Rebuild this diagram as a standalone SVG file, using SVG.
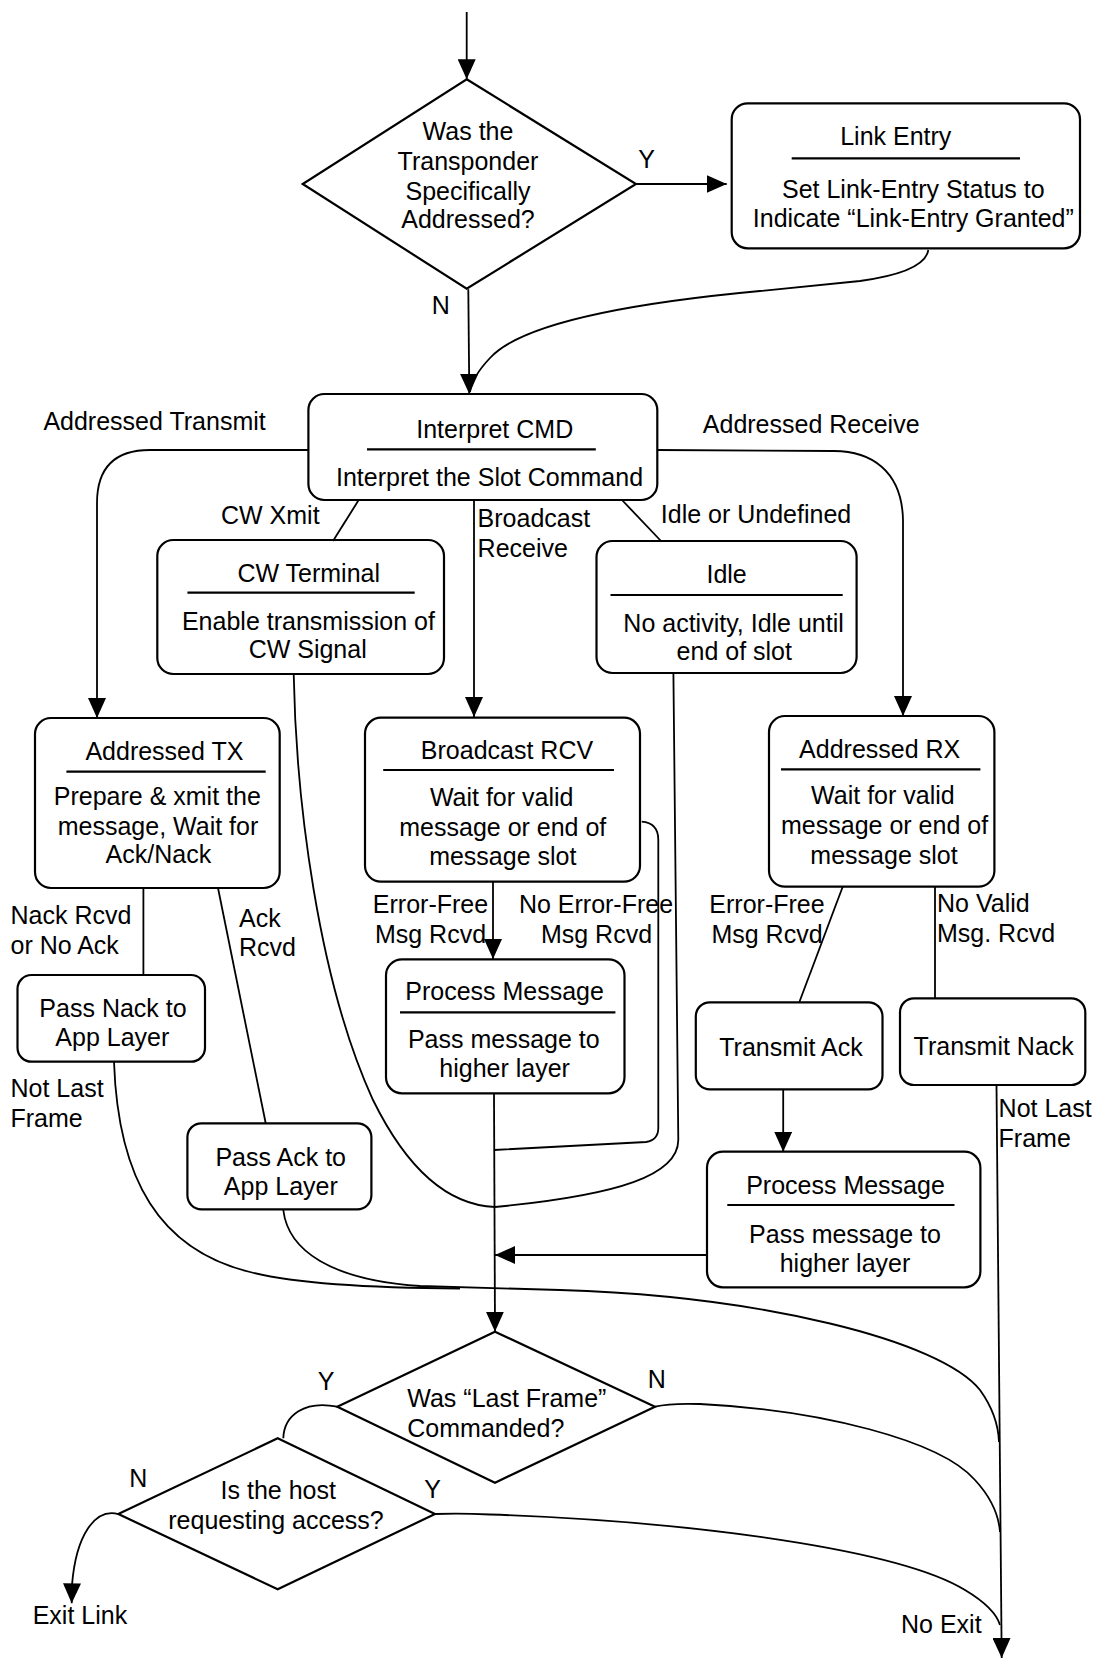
<svg xmlns="http://www.w3.org/2000/svg" width="1097" height="1659" viewBox="0 0 1097 1659">
<style>
.bx{fill:none;stroke:#000;stroke-width:2.2}
.ul{stroke:#000;stroke-width:2.2}
.c{fill:none;stroke:#000;stroke-width:1.8}
.ca{fill:none;stroke:#000;stroke-width:1.8;marker-end:url(#ah)}
text{font-family:"Liberation Sans",Arial,Helvetica,sans-serif;font-size:25px;fill:#000}
.m{text-anchor:middle}
</style>
<defs>
<marker id="ah" viewBox="0 0 20 18" refX="20" refY="9" markerWidth="20" markerHeight="18" markerUnits="userSpaceOnUse" orient="auto">
<path d="M0,0 L20,9 L0,18 Z" fill="#000"/>
</marker>
</defs>
<rect width="1097" height="1659" fill="#fff"/>

<g id="connectors">
<path class="ca" d="M466.7,12 L466.7,79.3"/>
<path class="ca" d="M636,184 L726.7,184"/>
<path class="ca" d="M468.3,289.3 L469.3,394"/>
<path class="c" d="M928.3,250 Q925,272 860,281 L760,291 C620,304 520,325 490,358 Q472,377 470,392"/>
<path class="ca" d="M308,450 L150,450 Q97,450 97,503 L97,718"/>
<path class="ca" d="M657,450 L834,451 C870,451 902,470 903,520 L903,716"/>
<path class="c" d="M358.7,500 L333,541"/>
<path class="ca" d="M474,500 L474,717"/>
<path class="c" d="M622,500 L661,541"/>
<path class="c" d="M143.4,888 L143.4,975"/>
<path class="c" d="M218,888 L265.7,1123.3"/>
<path class="c" d="M842.7,886.7 L799.3,1002.3"/>
<path class="c" d="M935,886.7 L935,998.3"/>
<path class="ca" d="M493,881.7 L493,959"/>
<path class="c" d="M641.7,821.7 Q658.3,823 658.3,840 L658.3,1128 Q658.3,1140 646,1142 L494,1150"/>
<path class="c" d="M293.7,674 C296,800 318,980 373,1100 C405,1165 445,1205 495,1207"/>
<path class="c" d="M673.4,673 L678.3,1140 C678,1175 620,1195 495,1207"/>
<path class="ca" d="M783.2,1089.3 L783.2,1151.7"/>
<path class="ca" d="M706.7,1255 L495,1255"/>
<path class="ca" d="M494,1093.3 L495,1331.7"/>
<path class="c" d="M114,1061.7 C118,1180 160,1250 250,1272 C300,1285 380,1288 460,1288.5"/>
<path class="c" d="M283.3,1210 C288,1250 330,1280 420,1286 L560,1290 C760,1296 940,1340 980,1390 Q998,1415 999,1442"/>
<path class="c" d="M655,1406.7 Q670,1403 700,1404 C820,1410 940,1440 975,1480 Q998,1505 1000,1532"/>
<path class="c" d="M435,1514 Q460,1513 490,1514.5 C700,1522 900,1550 965,1590 Q995,1608 1000,1625"/>
<path class="c" d="M337.3,1406.7 C305,1400 284,1415 283.3,1438.3"/>
<path class="ca" d="M118.3,1514 C95,1508 76,1535 72,1585 L71.7,1603.3"/>
<path class="ca" d="M996.5,1085 L1001.7,1658"/>
</g>

<g id="labels">
<text x="646.7" y="168.3" class="m">Y</text>
<text x="440.7" y="314" class="m">N</text>
<text x="43.4" y="430">Addressed Transmit</text>
<text x="702.8" y="433.3">Addressed Receive</text>
<text x="221" y="524.3">CW Xmit</text>
<text x="477.6" y="526.7">Broadcast</text>
<text x="477.6" y="556.7">Receive</text>
<text x="660.8" y="523.3">Idle or Undefined</text>
<text x="10.5" y="924.3">Nack Rcvd</text>
<text x="10.5" y="954">or No Ack</text>
<text x="239" y="926.7">Ack</text>
<text x="239" y="956">Rcvd</text>
<text x="430.5" y="913.3" class="m">Error-Free</text>
<text x="430.5" y="943.3" class="m">Msg Rcvd</text>
<text x="596" y="913.3" class="m">No Error-Free</text>
<text x="596.5" y="943.3" class="m">Msg Rcvd</text>
<text x="767" y="912.7" class="m">Error-Free</text>
<text x="767" y="942.7" class="m">Msg Rcvd</text>
<text x="937" y="912.3">No Valid</text>
<text x="937" y="941.7">Msg. Rcvd</text>
<text x="10.5" y="1097.3">Not Last</text>
<text x="10.5" y="1127.3">Frame</text>
<text x="998.6" y="1117.3">Not Last</text>
<text x="998.6" y="1147.3">Frame</text>
<text x="326" y="1390" class="m">Y</text>
<text x="656.7" y="1388.3" class="m">N</text>
<text x="138.3" y="1486.7" class="m">N</text>
<text x="432.7" y="1498.3" class="m">Y</text>
<text x="32.7" y="1624">Exit Link</text>
<text x="901" y="1633.3">No Exit</text>
</g>

<g id="n-addressed-q">
<polygon class="bx" points="466.7,79.3 636,184 466.7,288.7 302.7,184"/>
<text x="468" y="140" class="m">Was the</text>
<text x="468" y="170" class="m">Transponder</text>
<text x="468" y="200" class="m">Specifically</text>
<text x="468" y="228.3" class="m">Addressed?</text>
</g>

<g id="n-link-entry">
<rect class="bx" x="731.7" y="103.3" width="348.3" height="145" rx="16"/>
<text x="895.8" y="145" class="m">Link Entry</text>
<line class="ul" x1="791.7" y1="158.3" x2="1020" y2="158.3"/>
<text x="913.3" y="198.3" class="m">Set Link-Entry Status to</text>
<text x="913.3" y="226.7" class="m">Indicate “Link-Entry Granted”</text>
</g>

<g id="n-interpret">
<rect class="bx" x="308.4" y="394" width="348.9" height="106" rx="16"/>
<text x="494.7" y="438" class="m">Interpret CMD</text>
<line class="ul" x1="367" y1="449.3" x2="595.8" y2="449.3"/>
<text x="489.5" y="486" class="m">Interpret the Slot Command</text>
</g>

<g id="n-cw-terminal">
<rect class="bx" x="157.3" y="540" width="286.7" height="134" rx="16"/>
<text x="308.7" y="581.7" class="m">CW Terminal</text>
<line class="ul" x1="187.4" y1="592.7" x2="414.7" y2="592.7"/>
<text x="308.4" y="630" class="m">Enable transmission of</text>
<text x="307.7" y="658.3" class="m">CW Signal</text>
</g>

<g id="n-idle">
<rect class="bx" x="596.5" y="541" width="260.1" height="132" rx="16"/>
<text x="726.6" y="583.3" class="m">Idle</text>
<line class="ul" x1="610.5" y1="595" x2="842.7" y2="595"/>
<text x="733.6" y="631.7" class="m">No activity, Idle until</text>
<text x="734.3" y="660" class="m">end of slot</text>
</g>

<g id="n-addressed-tx">
<rect class="bx" x="35" y="718" width="244.7" height="170" rx="16"/>
<text x="164.4" y="760" class="m">Addressed TX</text>
<line class="ul" x1="66.4" y1="771.7" x2="265.7" y2="771.7"/>
<text x="157.3" y="805" class="m">Prepare &amp; xmit the</text>
<text x="158" y="835" class="m">message, Wait for</text>
<text x="158.4" y="863.3" class="m">Ack/Nack</text>
</g>

<g id="n-broadcast-rcv">
<rect class="bx" x="365" y="717.7" width="275" height="164" rx="16"/>
<text x="507" y="759.3" class="m">Broadcast RCV</text>
<line class="ul" x1="383.2" y1="770" x2="614" y2="770"/>
<text x="501.7" y="806" class="m">Wait for valid</text>
<text x="502.8" y="836" class="m">message or end of</text>
<text x="502.8" y="865" class="m">message slot</text>
</g>

<g id="n-addressed-rx">
<rect class="bx" x="769" y="716" width="225.4" height="170.7" rx="16"/>
<text x="879.7" y="758.3" class="m">Addressed RX</text>
<line class="ul" x1="781" y1="769.3" x2="980.4" y2="769.3"/>
<text x="882.9" y="804.3" class="m">Wait for valid</text>
<text x="884.6" y="834.3" class="m">message or end of</text>
<text x="884" y="864" class="m">message slot</text>
</g>

<g id="n-pass-nack">
<rect class="bx" x="17.5" y="975" width="187.5" height="86.7" rx="14"/>
<text x="113" y="1016.7" class="m">Pass Nack to</text>
<text x="112.3" y="1045.7" class="m">App Layer</text>
</g>

<g id="n-process-mid">
<rect class="bx" x="386" y="959.3" width="238.5" height="134" rx="16"/>
<text x="504.6" y="999.5" class="m">Process Message</text>
<line class="ul" x1="400" y1="1012.3" x2="615.4" y2="1012.3"/>
<text x="503.8" y="1047.7" class="m">Pass message to</text>
<text x="504.6" y="1076.7" class="m">higher layer</text>
</g>

<g id="n-transmit-ack">
<rect class="bx" x="695.8" y="1002.3" width="186.7" height="87" rx="14"/>
<text x="791" y="1056" class="m">Transmit Ack</text>
</g>

<g id="n-transmit-nack">
<rect class="bx" x="900" y="998.3" width="185.3" height="86.7" rx="14"/>
<text x="993.7" y="1055" class="m">Transmit Nack</text>
</g>

<g id="n-pass-ack">
<rect class="bx" x="187.4" y="1123.3" width="184" height="86" rx="14"/>
<text x="280.7" y="1166" class="m">Pass Ack to</text>
<text x="280.8" y="1195" class="m">App Layer</text>
</g>

<g id="n-process-right">
<rect class="bx" x="707" y="1151.7" width="273.4" height="135.6" rx="16"/>
<text x="845.5" y="1194" class="m">Process Message</text>
<line class="ul" x1="727.3" y1="1205" x2="954.5" y2="1205"/>
<text x="845" y="1242.7" class="m">Pass message to</text>
<text x="845" y="1271.7" class="m">higher layer</text>
</g>

<g id="n-last-frame-q">
<polygon class="bx" points="495,1331.7 655,1406.7 495,1482.7 337.3,1406.7"/>
<text x="407.3" y="1407.3">Was “Last Frame”</text>
<text x="407.3" y="1437.3">Commanded?</text>
</g>

<g id="n-host-q">
<polygon class="bx" points="277.7,1438.3 435,1514 277.7,1589.3 118.3,1514"/>
<text x="278.3" y="1499.3" class="m">Is the host</text>
<text x="276" y="1529.3" class="m">requesting access?</text>
</g>
</svg>
